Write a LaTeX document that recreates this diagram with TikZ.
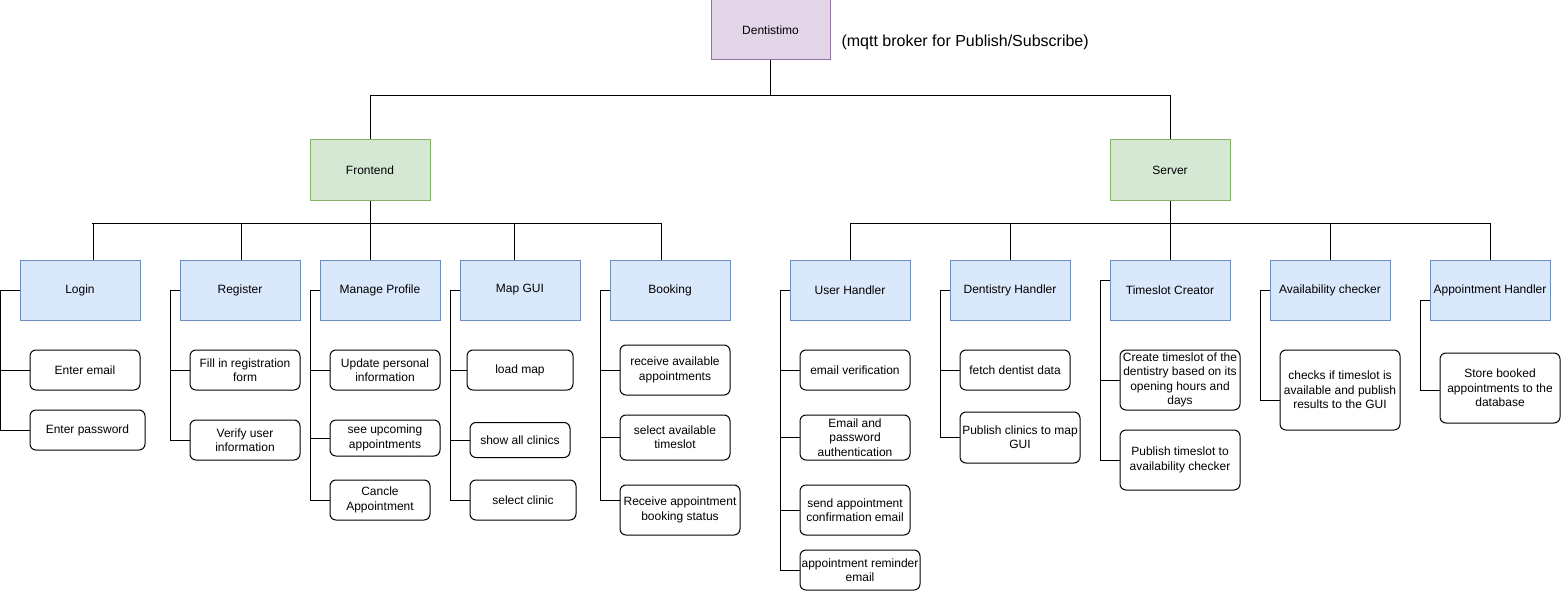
\documentclass[tikz,border=0pt]{standalone}
\usepackage{fontspec}
\setmainfont{Liberation Sans}
\definecolor{rootfill}{HTML}{E1D5E7}
\definecolor{rootline}{HTML}{9673A6}
\definecolor{partfill}{HTML}{D5E8D4}
\definecolor{partline}{HTML}{82B366}
\definecolor{modfill}{HTML}{DAE8FC}
\definecolor{modline}{HTML}{6C8EBF}

\begin{document}
\begin{tikzpicture}[x=1pt,y=-1pt,line width=1pt,
  every node/.style={font=\fontsize{12}{14.4}\selectfont,inner sep=1pt},
  root/.style={draw=rootline,fill=rootfill,minimum width=119,minimum height=60},
  part/.style={draw=partline,fill=partfill,minimum width=120,minimum height=60},
  module/.style={draw=modline,fill=modfill,minimum width=120,minimum height=60},
  task/.style 2 args={draw,rounded corners=6,align=center,minimum width=#1,minimum height=#2}]
\useasboundingbox (0,0) rectangle (1561,591);

% top levels
\node[root] (dent) at (770.5,30) {Dentistimo};
\node[anchor=west,font=\fontsize{16}{19}\selectfont] (mqtt) at (840,42) {(mqtt broker for Publish/Subscribe)};
\node[part] (front) at (370,170) {Frontend};
\node[part] (server) at (1170,170) {Server};
\draw (dent.south) -- ++(0,35) -| (front.north);
\draw (dent.south) -- ++(0,35) -| (server.north);

% frontend modules
\node[module] (login) at (80,290) {Login};
\node[module] (register) at (240,290) {Register};
\node[module] (manage) at (380,290) {Manage Profile};
\node[module] (mapgui) at (520,290) {Map GUI};
\node[module] (booking) at (670,290) {Booking};

\coordinate (fbusl) at (92,223);
\coordinate (fbusr) at (661,223);
\draw (fbusl) -- (fbusr);
\draw (front.south) -- (front.south |- manage.north);
\draw ([xshift=13]login.north) -- ([xshift=13]login.north |- fbusl);
\draw ([xshift=1]register.north) -- ([xshift=1]register.north |- fbusl);
\draw ([xshift=-6]mapgui.north) -- ([xshift=-6]mapgui.north |- fbusl);
\draw ([xshift=-9]booking.north) -- ([xshift=-9]booking.north |- fbusl);

% server modules
\node[module] (user) at (850,290) {User Handler};
\node[module] (dentistry) at (1010,290) {Dentistry Handler};
\node[module] (slot) at (1170,290) {Timeslot Creator};
\node[module] (avail) at (1330,290) {Availability checker};
\node[module] (appoint) at (1490,290) {Appointment Handler};

\draw (user.north) -- ++(0,-36) -| (appoint.north);
\draw (server.south) -- (slot.north);
\draw (dentistry.north) -- ++(0,-36);
\draw (avail.north) -- ++(0,-36);

% login
\node[task={110}{40}] (email) at (85,370) {Enter email};
\node[task={115}{40}] (pass) at (87.5,430) {Enter password};
\foreach \c in {email,pass}
  \draw (login.west) -- ++(-19,0) |- (\c.west);

% register
\node[task={110}{40}] (regform) at (245,370) {Fill in registration\\form};
\node[task={110}{40}] (verify) at (245,440) {Verify user\\information};
\foreach \c in {regform,verify}
  \draw (register.west) -- ++(-9,0) |- (\c.west);

% manage profile
\node[task={110}{40}] (update) at (385,370) {Update personal\\information};
\node[task={110}{36}] (upcoming) at (385,438) {see upcoming\\appointments};
\node[task={100}{40}] (cancel) at (380,500) {Cancle\\Appointment};
\foreach \c in {update,upcoming,cancel}
  \draw (manage.west) -- ++(-9,0) |- (\c.west);

% map gui
\node[task={106}{40}] (loadmap) at (520,370) {load map};
\node[task={100}{35}] (allclinics) at (520,440) {show all clinics};
\node[task={106}{40}] (selclinic) at (523,500) {select clinic};
\foreach \c in {loadmap,allclinics,selclinic}
  \draw (mapgui.west) -- ++(-9,0) |- (\c.west);

% booking
\node[task={110}{50}] (recv) at (675,370) {receive available\\appointments};
\node[task={110}{45}] (seltime) at (675,437.5) {select available\\timeslot};
\node[task={120}{50}] (status) at (680,510) {Receive appointment\\booking status};
\foreach \c in {recv,seltime}
  \draw (booking.west) -- ++(-9,0) |- (\c.west);
\draw (booking.west) -- ++(-9,0) |- ([yshift=10]status.west);

% user handler
\node[task={110}{40}] (emailver) at (855,370) {email verification};
\node[task={110}{45}] (emailauth) at (855,437.5) {Email and\\password\\authentication};
\node[task={110}{50}] (sendconf) at (855,510) {send appointment\\confirmation email};
\node[task={120}{40}] (reminder) at (860,570) {appointment reminder\\email};
\foreach \c in {emailver,emailauth,sendconf,reminder}
  \draw (user.west) -- ++(-9,0) |- (\c.west);

% dentistry handler
\node[task={110}{40}] (fetch) at (1015,370) {fetch dentist data};
\node[task={120}{51}] (pubclin) at (1020,437.5) {Publish clinics to map\\GUI};
\foreach \c in {fetch,pubclin}
  \draw (dentistry.west) -- ++(-9,0) |- (\c.west);

% timeslot creator
\node[task={120}{60}] (create) at (1180,380) {Create timeslot of the\\dentistry based on its\\opening hours and\\days};
\node[task={120}{60}] (pubslot) at (1180,460) {Publish timeslot to\\availability checker};
\foreach \c in {create,pubslot}
  \draw ([yshift=10]slot.west) -- ++(-9,0) |- (\c.west);

% availability checker
\node[task={120}{80}] (checks) at (1340,390) {checks if timeslot is\\available and publish\\results to the GUI};
\draw (avail.west) -- ++(-9,0) |- ([yshift=-10]checks.west);

% appointment handler
\node[task={120}{70}] (store) at (1500,388) {Store booked\\appointments to the\\database};
\draw ([yshift=-10]appoint.west) -- ++(-9,0) |- ([yshift=-2]store.west);

\end{tikzpicture}
\end{document}
